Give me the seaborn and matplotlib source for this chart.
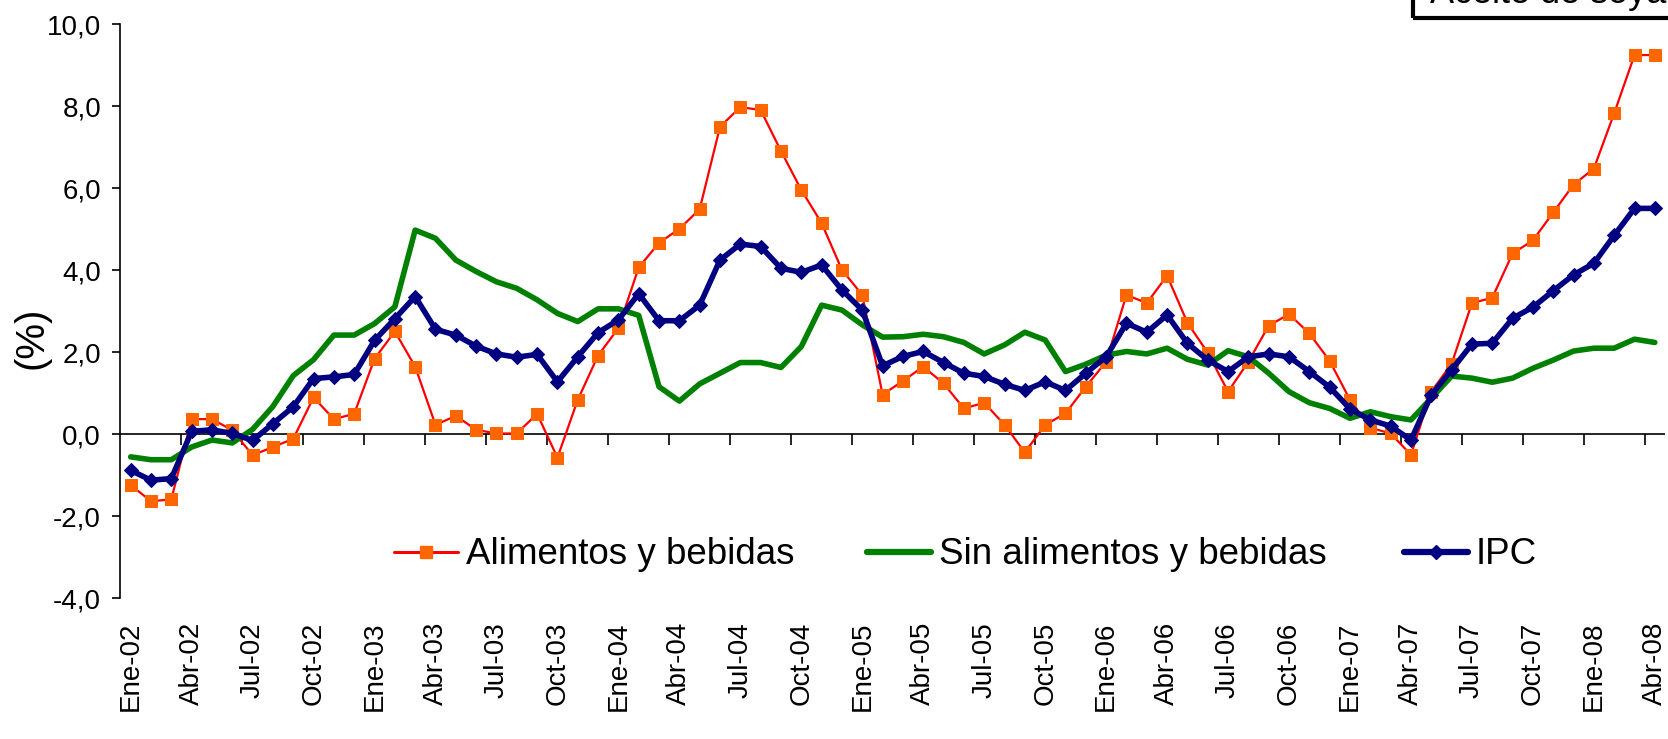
import matplotlib
matplotlib.use("Agg")
import matplotlib.pyplot as plt
import matplotlib.ticker as mticker
from matplotlib.lines import Line2D
from matplotlib.patches import Rectangle
import seaborn as sns
import pandas as pd
import numpy as np

# ---------------- data ----------------
years = ["02", "03", "04", "05", "06", "07", "08"]
month_abbr = ["Ene", "Feb", "Mar", "Abr", "May", "Jun", "Jul", "Ago", "Sep", "Oct", "Nov", "Dic"]
months = [f"{m}-{y}" for y in years for m in month_abbr][:76]   # Ene-02 .. Abr-08

alimentos = [-1.24, -1.63, -1.59, 0.37, 0.37, 0.10, -0.51, -0.31, -0.11, 0.90,
             0.37, 0.50, 1.84, 2.51, 1.65, 0.23, 0.45, 0.11, 0.02, 0.02,
             0.50, -0.57, 0.84, 1.92, 2.59, 4.07, 4.67, 5.01, 5.49, 7.50,
             7.98, 7.91, 6.91, 5.96, 5.15, 4.01, 3.40, 0.97, 1.30, 1.65,
             1.24, 0.63, 0.77, 0.23, -0.44, 0.23, 0.51, 1.16, 1.77, 3.40,
             3.20, 3.87, 2.72, 1.99, 1.04, 1.77, 2.65, 2.93, 2.46, 1.79,
             0.84, 0.16, 0.02, -0.50, 1.04, 1.72, 3.20, 3.33, 4.41, 4.73,
             5.41, 6.09, 6.48, 7.83, 9.25, 9.25]

sin_alimentos = [-0.55, -0.62, -0.62, -0.31, -0.14, -0.21, 0.12, 0.68, 1.43, 1.82,
                 2.42, 2.42, 2.70, 3.11, 4.98, 4.78, 4.25, 3.97, 3.72, 3.56,
                 3.28, 2.95, 2.75, 3.06, 3.06, 2.90, 1.16, 0.81, 1.23, 1.49,
                 1.75, 1.75, 1.63, 2.14, 3.15, 3.03, 2.67, 2.37, 2.38, 2.44,
                 2.38, 2.24, 1.96, 2.18, 2.49, 2.30, 1.53, 1.71, 1.93, 2.02,
                 1.96, 2.10, 1.83, 1.69, 2.04, 1.89, 1.49, 1.04, 0.77, 0.63,
                 0.39, 0.55, 0.43, 0.35, 0.88, 1.42, 1.37, 1.27, 1.37, 1.61,
                 1.81, 2.03, 2.10, 2.10, 2.32, 2.24]

ipc = [-0.88, -1.12, -1.08, 0.07, 0.11, 0.02, -0.15, 0.26, 0.67, 1.36,
       1.40, 1.46, 2.29, 2.82, 3.36, 2.56, 2.42, 2.15, 1.96, 1.88,
       1.95, 1.28, 1.89, 2.48, 2.79, 3.43, 2.77, 2.77, 3.15, 4.25,
       4.64, 4.58, 4.05, 3.95, 4.13, 3.52, 3.03, 1.67, 1.90, 2.02,
       1.75, 1.49, 1.41, 1.22, 1.07, 1.28, 1.07, 1.49, 1.89, 2.71,
       2.49, 2.91, 2.22, 1.81, 1.53, 1.89, 1.96, 1.89, 1.53, 1.15,
       0.62, 0.35, 0.20, -0.14, 0.96, 1.57, 2.20, 2.22, 2.83, 3.10,
       3.50, 3.89, 4.17, 4.85, 5.51, 5.51]

series_names = ["Alimentos y bebidas", "Sin alimentos y bebidas", "IPC"]
y_ticks = [-4.0, -2.0, 0.0, 2.0, 4.0, 6.0, 8.0, 10.0]
box_text = "Aceite de soya"

df = pd.DataFrame({"idx": np.arange(len(months)), "mes": months,
                   series_names[0]: alimentos,
                   series_names[1]: sin_alimentos,
                   series_names[2]: ipc})

# ---------------- style ----------------
sns.set_style("white")
plt.rcParams["font.family"] = ["Liberation Sans", "DejaVu Sans"]
for k in ["text.color", "axes.labelcolor", "xtick.color", "ytick.color", "axes.edgecolor"]:
    plt.rcParams[k] = "black"

W, H = 1668, 739
fig = plt.figure(figsize=(W / 100, H / 100), dpi=100)
left_px, right_px, top_px, bot_px = 120.5, 1665, 24.3, 598.3
ax = fig.add_axes([left_px / W, 1 - bot_px / H, (right_px - left_px) / W, (bot_px - top_px) / H])

styles = [
    dict(color="#FF0000", linewidth=1.6, marker="s", markersize=8,
         markerfacecolor="#FF6600", markeredgecolor="#FF6600"),
    dict(color="#008000", linewidth=4.0),
    dict(color="#000080", linewidth=4.0, marker="D", markersize=7.5,
         markerfacecolor="#000080", markeredgecolor="#000080"),
]
for name, st in zip(series_names, styles):
    sns.lineplot(data=df, x="idx", y=name, ax=ax, legend=False, **st)

ax.set_xlim(-0.5, len(months) - 0.5)
ax.set_ylim(-4, 10)

# y axis
ax.set_yticks(y_ticks)
ax.yaxis.set_major_formatter(mticker.FuncFormatter(lambda v, p: f"{v:.1f}".replace(".", ",")))
ax.tick_params(axis="y", direction="out", length=6, width=1.2, color="black",
               labelcolor="black", labelsize=20, pad=8, left=True)
ax.set_ylabel("")

# x axis labels at the bottom (Ene, Abr, Jul, Oct)
xt = list(range(0, len(months), 3))
ax.set_xticks(xt)
ax.set_xticklabels([months[i] for i in xt], rotation=90, ha="center", va="top")
ax.tick_params(axis="x", length=0, labelsize=20, labelcolor="black", pad=17)
ax.set_xlabel("")

# spines
for s in ["top", "right", "bottom"]:
    ax.spines[s].set_visible(False)
ax.spines["left"].set_color("black")
ax.spines["left"].set_linewidth(1.2)

# category axis crossing at zero with tick marks between categories
ax.axhline(0, color="black", linewidth=1.2, zorder=1)
bounds = np.arange(2.5, len(months) - 0.5, 3)
ax.vlines(bounds, -0.27, 0, color="black", linewidth=1.2, zorder=1)

# y-label
fig.text(32 / W, 1 - 338 / H, "(%)", rotation=90, ha="center", va="center",
         fontsize=29, color="black")

# legends (three entries placed in a row)
handles = [
    Line2D([], [], color="#FF0000", linewidth=2.2, marker="s", markersize=8,
           markerfacecolor="#FF6600", markeredgecolor="#FF6600"),
    Line2D([], [], color="#008000", linewidth=4.5),
    Line2D([], [], color="#000080", linewidth=4.5, marker="D", markersize=7,
           markerfacecolor="#000080", markeredgecolor="#000080"),
]
leg_x = [394, 867, 1404]
leg_y = 555
for h, name, lx in zip(handles, series_names, leg_x):
    lg = fig.legend([h], [name], loc="center left",
                    bbox_to_anchor=(lx / W, 1 - leg_y / H), frameon=False,
                    fontsize=26.5, handlelength=1.75, handletextpad=0.2,
                    borderpad=0, borderaxespad=0, markerscale=1.0, numpoints=1,
                    labelcolor="black")

# top-right text box (cut off by the figure edge, as in the original)
fig.patches.append(Rectangle((1413 / W, 1 - 18 / H), 300 / W, 40 / H,
                             transform=fig.transFigure, fill=False,
                             edgecolor="black", linewidth=3, clip_on=False))
fig.text(1430 / W, 1 - 3 / H, box_text, ha="left", va="baseline", fontsize=26,
         color="black")

fig.savefig("out.png", dpi=100)
